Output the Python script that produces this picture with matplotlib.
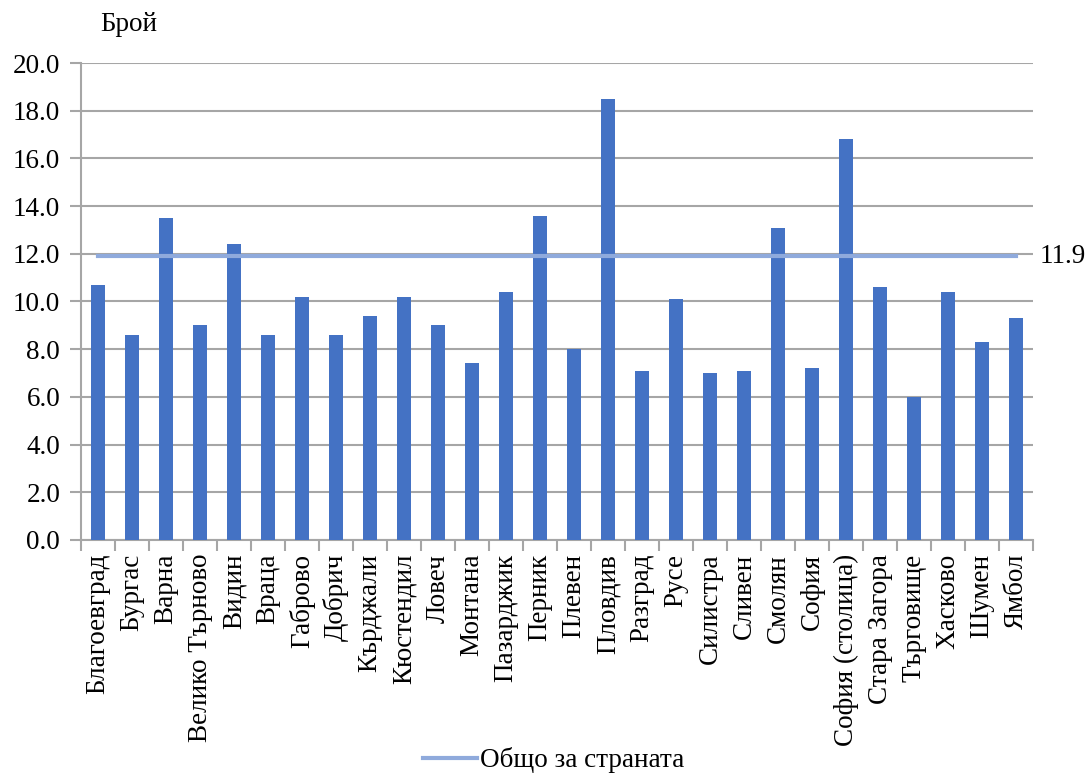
import numpy as np
import matplotlib.pyplot as plt
from matplotlib.ticker import FormatStrFormatter, FixedLocator

plt.rcParams['font.family'] = ['Liberation Serif', 'DejaVu Serif']

# Data
regions = ["Благоевград", "Бургас", "Варна", "Велико Търново", "Видин", "Враца",
           "Габрово", "Добрич", "Кърджали", "Кюстендил", "Ловеч", "Монтана",
           "Пазарджик", "Перник", "Плевен", "Пловдив", "Разград", "Русе",
           "Силистра", "Сливен", "Смолян", "София", "София (столица)",
           "Стара Загора", "Търговище", "Хасково", "Шумен", "Ямбол"]
values = [10.7, 8.6, 13.5, 9.0, 12.4, 8.6, 10.2, 8.6, 9.4, 10.2, 9.0, 7.4,
          10.4, 13.6, 8.0, 18.5, 7.1, 10.1, 7.0, 7.1, 13.1, 7.2, 16.8,
          10.6, 6.0, 10.4, 8.3, 9.3]
country_avg = 11.9

grid_color = "#A6A6A6"
fs = 19.5

fig = plt.figure(figsize=(10.9, 7.78), dpi=100)
ax = fig.add_axes([0.0743, 0.306, 0.8735, 0.613])

x = np.arange(len(regions))
ax.bar(x, values, width=0.4, color="#4472C4", zorder=3)
ax.plot([x[0], x[-1]], [country_avg] * 2, color="#8FAADC", linewidth=3,
        zorder=4, label="Общо за страната")
ax.text(len(regions) - 0.5 + 0.2, country_avg, f"{country_avg:.1f}",
        fontsize=fs, va="center", ha="left")

ax.set_xlim(-0.5, len(regions) - 0.5)
ax.set_ylim(0, 20)
ax.set_yticks(np.arange(0, 20.1, 2))
ax.yaxis.set_major_formatter(FormatStrFormatter("%.1f"))
ax.yaxis.grid(True, color=grid_color, linewidth=1.5, zorder=0)

ax.set_xticks(x)
ax.set_xticklabels(regions, rotation=90, fontsize=fs)
ax.xaxis.set_minor_locator(FixedLocator(np.arange(-0.5, len(regions), 1)))
ax.tick_params(axis="x", which="major", length=0, pad=10)
ax.tick_params(axis="x", which="minor", length=8, width=1.5, color=grid_color)
ax.tick_params(axis="y", length=8, width=1.5, color=grid_color, labelsize=fs, pad=7)

for side in ["top", "right"]:
    ax.spines[side].set_visible(False)
for side in ["left", "bottom"]:
    ax.spines[side].set_color(grid_color)
    ax.spines[side].set_linewidth(1.5)

fig.text(0.092, 0.968, "Брой", fontsize=fs, va="center", ha="left")

fig.legend(loc="lower center", bbox_to_anchor=(0.508, -0.025), frameon=False,
           fontsize=fs, handlelength=2.0, handletextpad=0.1)

fig.savefig("out.png", dpi=100)
